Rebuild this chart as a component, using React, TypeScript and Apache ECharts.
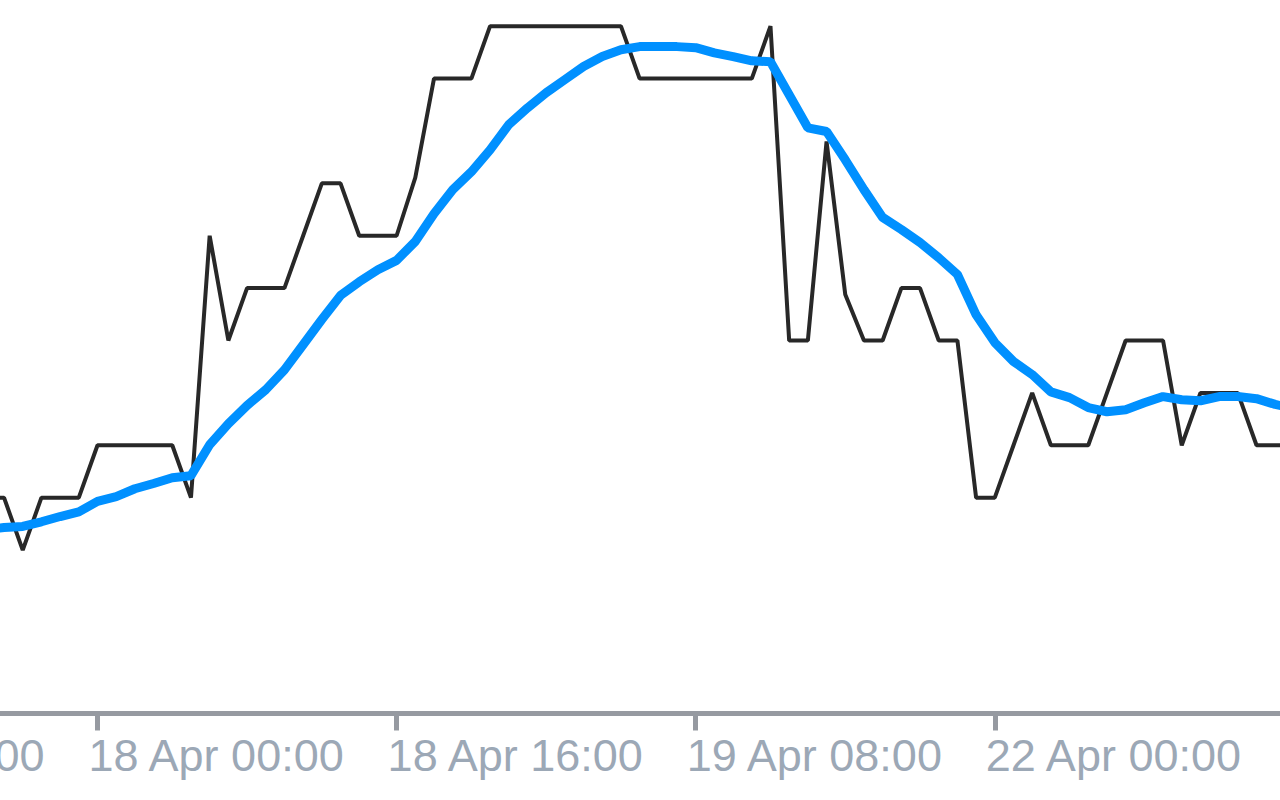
import React, { useEffect, useRef } from "react";
import * as echarts from "echarts";

// Hourly bars, weekend hours skipped (MetaTrader style time axis)
const startTime = Date.UTC(2024, 3, 17, 8, 0);
const barCount = 81;
const monthNames = ["Jan", "Feb", "Mar", "Apr", "May", "Jun", "Jul", "Aug", "Sep", "Oct", "Nov", "Dec"];

function buildCategories(): string[] {
  const out: string[] = [];
  let t = startTime;
  while (out.length < barCount) {
    const d = new Date(t);
    const wd = d.getUTCDay();
    if (wd !== 0 && wd !== 6) {
      const dd = d.getUTCDate();
      const hh = String(d.getUTCHours()).padStart(2, "0");
      const mm = String(d.getUTCMinutes()).padStart(2, "0");
      out.push(`${dd} ${monthNames[d.getUTCMonth()]} ${hh}:${mm}`);
    }
    t += 3600 * 1000;
  }
  return out;
}
const categories = buildCategories();

// bars before the visible window carry no drawn value
const hiddenLead = 10;

// close prices (from 17 Apr 18:00 onward)
const closePrices = [
  2383, 2383, 2382, 2383, 2383, 2383,
  2384, 2384, 2384, 2384, 2384, 2383, 2388, 2386, 2387, 2387, 2387, 2388, 2389, 2389, 2388, 2388,
  2388, 2389.11, 2391, 2391, 2391, 2392, 2392, 2392, 2392, 2392, 2392, 2392, 2392, 2391, 2391, 2391,
  2391, 2391, 2391, 2391, 2392, 2386, 2386, 2389.8, 2386.88, 2386, 2386, 2387, 2387, 2386, 2386, 2383,
  2383, 2384, 2385, 2384, 2384, 2384, 2385, 2386, 2386, 2386, 2384, 2385, 2385, 2385, 2384, 2384, 2384,
];

// moving average
const maValues = [
  2382.39, 2382.43, 2382.45, 2382.54, 2382.64, 2382.73,
  2382.93, 2383.02, 2383.17, 2383.27, 2383.38, 2383.42, 2384.01, 2384.41, 2384.76, 2385.06, 2385.44,
  2385.92, 2386.4, 2386.86, 2387.12, 2387.35,
  2387.53, 2387.89, 2388.42, 2388.88, 2389.22, 2389.64, 2390.12, 2390.44, 2390.73, 2390.98, 2391.23,
  2391.42, 2391.55, 2391.61, 2391.61, 2391.61,
  2391.59, 2391.49, 2391.42, 2391.34, 2391.32, 2390.69, 2390.06, 2389.99, 2389.45, 2388.88, 2388.35,
  2388.12, 2387.87, 2387.58, 2387.26, 2386.49,
  2385.96, 2385.6, 2385.35, 2385.02, 2384.91, 2384.72, 2384.64, 2384.68, 2384.81, 2384.93, 2384.87,
  2384.85, 2384.93, 2384.93, 2384.89, 2384.78, 2384.7,
];

const yMin = 2378.88;
const yMax = 2392.5;

export default function App() {
  const ref = useRef<HTMLDivElement>(null);

  useEffect(() => {
    document.body.style.margin = "0";
    if (!ref.current) return;
    const chart = echarts.init(ref.current, undefined, { renderer: "svg" });
    const lead: (number | null)[] = new Array(hiddenLead).fill(null);
    chart.setOption({
      animation: false,
      backgroundColor: "#ffffff",
      grid: {
        left: -201.6,
        right: -13.9,
        top: 0,
        bottom: 86.5,
        containLabel: false,
        outerBoundsMode: "none",
      },
      xAxis: {
        type: "category",
        data: categories,
        boundaryGap: false,
        axisLine: { show: true, lineStyle: { color: "#969aa1", width: 5 } },
        axisTick: {
          show: true,
          interval: 15,
          length: 17,
          lineStyle: { color: "#969aa1", width: 5 },
        },
        axisLabel: {
          show: true,
          interval: 15,
          align: "left",
          margin: 19,
          padding: [0, 0, 0, -9],
          color: "#9ca8b6",
          fontSize: 45,
          fontFamily: "'Liberation Sans', Arial, sans-serif",
          hideOverlap: false,
          formatter: (value: string, index: number) => (index === barCount - 1 ? "" : value),
        },
        splitLine: { show: false },
      },
      yAxis: {
        type: "value",
        min: yMin,
        max: yMax,
        show: false,
        splitLine: { show: false },
      },
      series: [
        {
          name: "Close",
          type: "line",
          data: lead.concat(closePrices),
          showSymbol: false,
          symbol: "none",
          connectNulls: false,
          lineStyle: { color: "#282828", width: 4 },
          z: 2,
        },
        {
          name: "MA",
          type: "line",
          data: lead.concat(maValues),
          showSymbol: false,
          symbol: "none",
          lineStyle: { color: "#0090ff", width: 9 },
          z: 3,
        },
      ],
    });
    return () => chart.dispose();
  }, []);

  return (
    <div
      ref={ref}
      style={{ position: "absolute", left: 0, top: 0, width: 1280, height: 800 }}
    />
  );
}
